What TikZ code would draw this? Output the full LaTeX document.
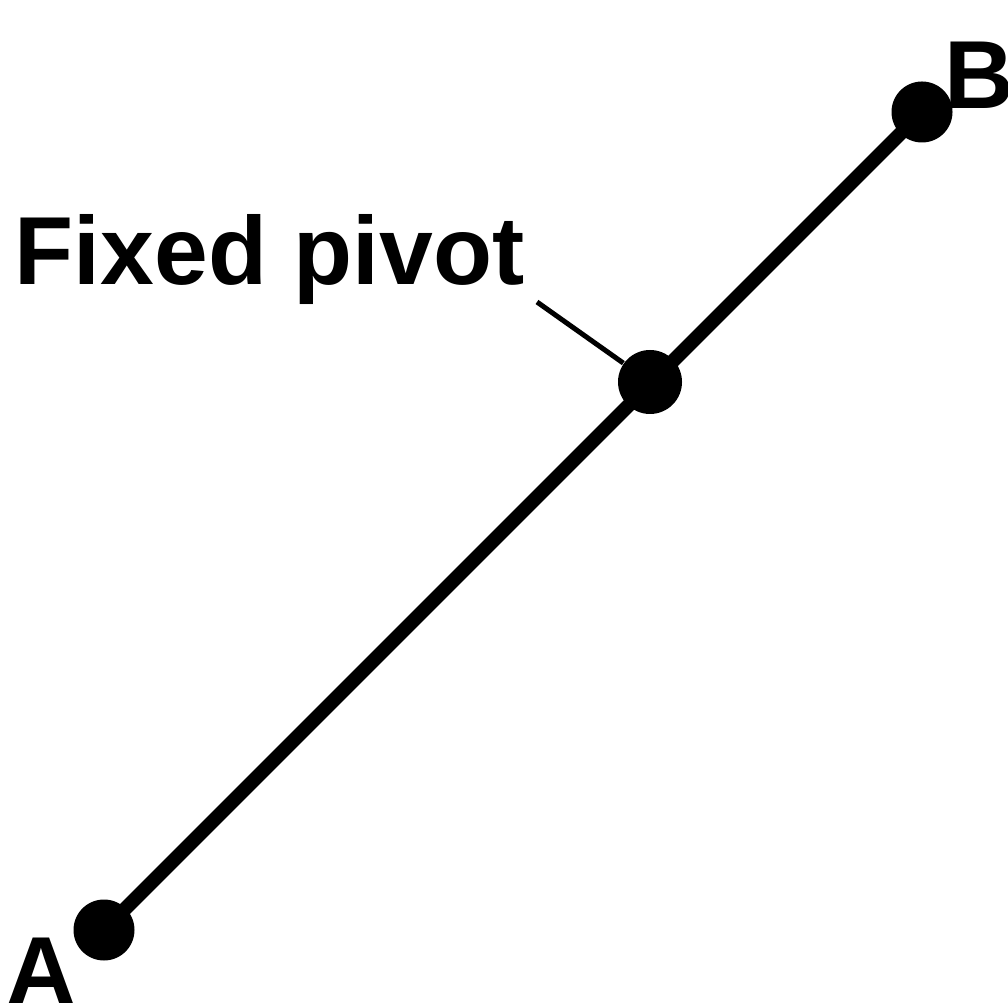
\documentclass[tikz,border=0pt]{standalone}
\usepackage{fontspec}
\setmainfont{Liberation Sans}
\usepackage{xcolor}
\definecolor{leverink}{HTML}{000000}

\begin{document}
\begin{tikzpicture}[x=1cm, y=1cm,
                    every node/.style={leverink, font=\fontsize{27.5}{33}\selectfont\bfseries},
                    jointdot/.style={circle, fill=leverink, inner sep=0pt, minimum size=0.61cm},
                    pivotdot/.style={circle, fill=leverink, inner sep=0pt, minimum size=0.64cm},
                    leader/.style={leverink, line width=0.05cm}]

  \useasboundingbox (0,0) rectangle (10.08,10.02);

  %% end points and pivot
  \node[jointdot] (A) at (1.04,0.72) {};
  \node[jointdot] (B) at (9.22,8.90) {};
  \node[pivotdot] (P) at (6.50,6.20) {};

  %% lever bar
  \draw[leverink, line width=0.14cm] (A.center) -- (B.center);

  %% labels
  \node[anchor=base west, inner sep=0pt] (labA) at (0.06,-0.02) {A};
  \node[anchor=base west, inner sep=0pt] (labB) at (9.44,8.93) {B};
  \node[anchor=base west, inner sep=0pt] (labP) at (0.14,7.17) {Fixed pivot};

  %% leader line to the pivot
  \coordinate (tip) at (5.37,7.00);
  \draw[leader] (tip) -- (P);

\end{tikzpicture}
\end{document}
